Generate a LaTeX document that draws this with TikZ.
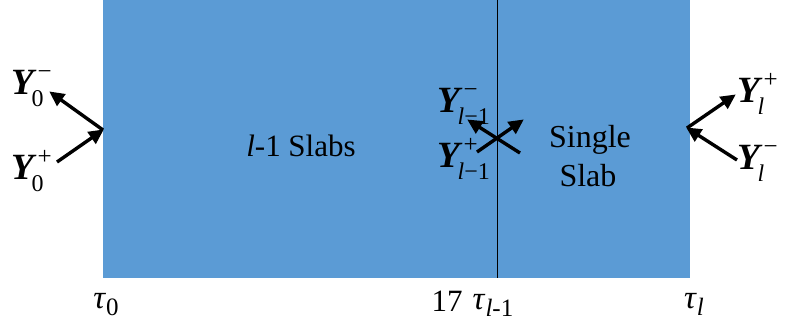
\documentclass[tikz,border=0pt]{standalone}
\usepackage{fontspec}
\setmainfont{Liberation Serif}
\usetikzlibrary{arrows.meta}
\definecolor{slabblue}{RGB}{91,155,213}
\newcommand\Ylab[2]{\textbf{\textit{Y}}\rlap{\raisebox{15pt}{\fontsize{25}{25}\selectfont\hspace{1pt}#1}}\hspace{-5pt}\raisebox{-12pt}{\fontsize{24}{24}\selectfont #2}}
\newcommand\taulab[1]{\textit{τ}\raisebox{-7pt}{\fontsize{25}{25}\selectfont #1}}
\tikzset{
  flux/.style={line width=3.4pt, -{Triangle[length=15pt,width=14pt]}, shorten >=-1pt},
  ylabel/.style={font=\fontsize{37}{40}\selectfont, inner sep=0pt, anchor=base west},
  taulabel/.style={font=\fontsize{33}{36}\selectfont, inner sep=0pt, anchor=base},
  slabtext/.style={font=\fontsize{31}{34}\selectfont, inner sep=0pt, anchor=base}
}
\begin{document}
\begin{tikzpicture}[x=1pt,y=-1pt]
\useasboundingbox (0,0) rectangle (785,320);
% slab block
\fill[slabblue] (103,0) rectangle (690,278);
\coordinate (ltop) at (497,0);
\coordinate (lbot) at (497,278);
\draw[line width=1pt] (ltop) -- (lbot);
% texts inside
\node[slabtext] (many) at (301,157) {\textit{l}-1 Slabs};
\node[slabtext, font=\fontsize{32}{38}\selectfont] (single) at (590,148) {Single};
\node[slabtext, font=\fontsize{32}{38}\selectfont] (slab) at (588,187) {Slab};
% labels
\node[ylabel] (y0m) at (11,95) {\Ylab{−}{0}};
\node[ylabel] (y0p) at (11,180) {\Ylab{+}{0}};
\node[ylabel] (ylm) at (437,113) {\Ylab{−}{\textit{l}−1}};
\node[ylabel] (ylp) at (437,168) {\Ylab{+}{\textit{l}−1}};
\node[ylabel] (yrp) at (737,103) {\Ylab{+}{\textit{l}}};
\node[ylabel] (yrm) at (737,170) {\Ylab{−}{\textit{l}}};
% arrow end points
\coordinate (j1) at (103,130);
\coordinate (a1) at (50,92);
\coordinate (b1) at (57,162);
\coordinate (c0) at (520,153);
\coordinate (c1) at (468,120);
\coordinate (d0) at (477,152);
\coordinate (d1) at (523,120);
\coordinate (j2) at (687,128);
\coordinate (e1) at (735,95);
\coordinate (f0) at (737,160);
\draw[flux] (j1) -- (a1);
\draw[flux] (b1) -- (j1);
\draw[flux] (c0) -- (c1);
\draw[flux] (d0) -- (d1);
\draw[flux] (j2) -- (e1);
\draw[flux] (f0) -- (j2);
% bottom labels
\node[taulabel] (t0) at (106,309) {\taulab{0}};
\node[taulabel, font=\fontsize{31}{34}\selectfont] (n17) at (447,312) {17};
\node[taulabel] (tl1) at (493,310) {\taulab{\textit{l}-1}};
\node[taulabel] (tl) at (694,309) {\taulab{\textit{l}}};
\end{tikzpicture}
\end{document}
